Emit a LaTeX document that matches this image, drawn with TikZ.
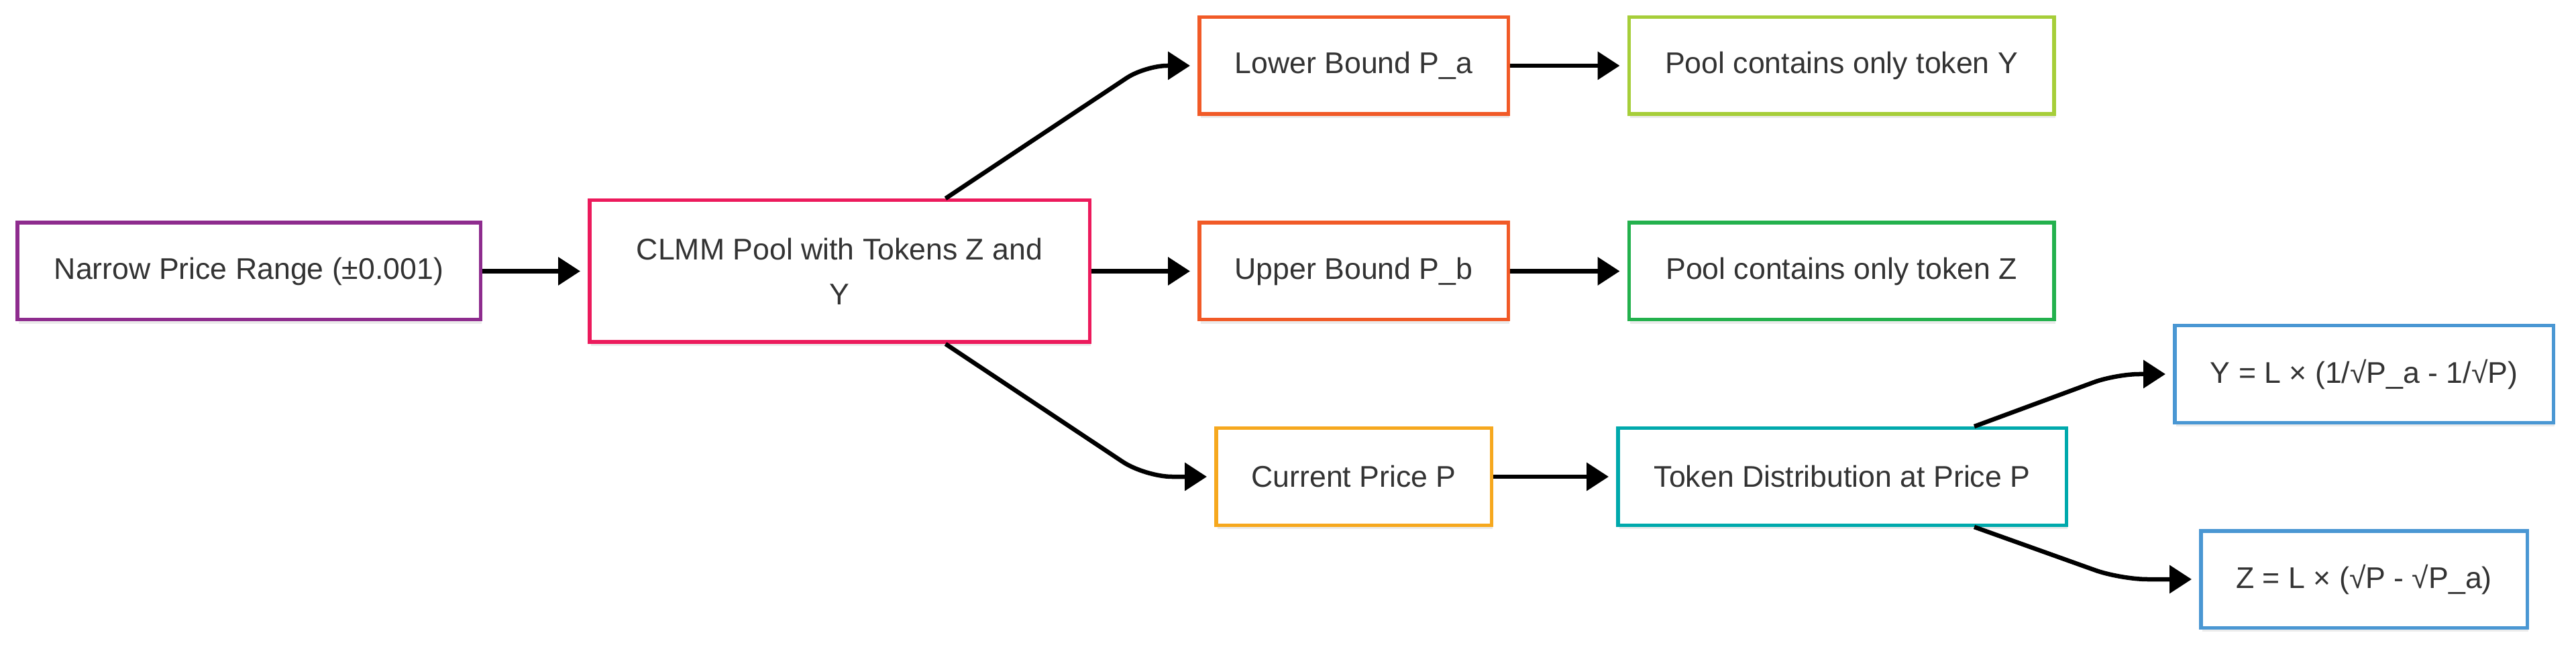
\documentclass[tikz,border=0pt]{standalone}
\usepackage{fontspec}
\setmainfont{Liberation Sans}
\usetikzlibrary{arrows.meta,shadows,calc}
\definecolor{txt}{HTML}{333333}
\definecolor{cpurple}{HTML}{8E2C8E}
\definecolor{cpink}{HTML}{EC1A5C}
\definecolor{corange}{HTML}{F15A27}
\definecolor{clime}{HTML}{A6CE39}
\definecolor{cgreen}{HTML}{23B14D}
\definecolor{camber}{HTML}{F6A81E}
\definecolor{cteal}{HTML}{00A9AC}
\definecolor{cblue}{HTML}{4A97D3}
\begin{document}
\begin{tikzpicture}[
  box/.style={draw=#1, line width=0.055cm, fill=white, inner sep=0pt, align=center,
    text=txt, font=\fontsize{12.7pt}{19pt}\selectfont, minimum height=1.445cm,
    drop shadow={shadow xshift=0.02cm, shadow yshift=-0.06cm, opacity=0.08, fill=black, draw=none}},
  arr/.style={draw=black, line width=0.065cm, -{Triangle[length=0.33cm,width=0.41cm]}, shorten >=0.11cm},
]
\useasboundingbox (0,0) rectangle (38.4,-9.65);

\node[box=cpurple, minimum width=6.905cm] (n1) at (3.71,-4.045) {Narrow Price Range (±0.001)};
\node[box=cpink, minimum width=7.455cm, minimum height=2.115cm] (n2) at (12.515,-4.045) {CLMM Pool with Tokens Z and\\Y};
\node[box=corange, minimum width=4.605cm] (lb) at (20.18,-0.98) {Lower Bound P\_a};
\node[box=corange, minimum width=4.605cm] (ub) at (20.18,-4.045) {Upper Bound P\_b};
\node[box=camber, minimum width=4.105cm] (cp) at (20.18,-7.11) {Current Price P};
\node[box=clime, minimum width=6.335cm] (py) at (27.45,-0.98) {Pool contains only token Y};
\node[box=cgreen, minimum width=6.335cm] (pz) at (27.45,-4.045) {Pool contains only token Z};
\node[box=cteal, minimum width=6.685cm] (td) at (27.46,-7.11) {Token Distribution at Price P};
\node[box=cblue, minimum width=5.645cm] (fy) at (35.24,-5.58) {Y = L × (1/√P\_a - 1/√P)};
\node[box=cblue, minimum width=4.865cm] (fz) at (35.24,-8.64) {Z = L × (√P - √P\_a)};

\draw[arr] (n1.east) -- (n2.west);
\draw[arr, rounded corners=0.33cm] ([xshift=1.58cm]n2.north) -- ([xshift=-0.78cm]lb.west) -- (lb.west);
\draw[arr] (n2.east) -- (ub.west);
\draw[arr, rounded corners=0.4cm] ([xshift=1.58cm]n2.south) -- ([xshift=-1.03cm]cp.west) -- (cp.west);
\draw[arr] (lb.east) -- (py.west);
\draw[arr] (ub.east) -- (pz.west);
\draw[arr] (cp.east) -- (td.west);
\draw[arr, rounded corners=0.35cm] ([xshift=1.97cm]td.north) -- ([xshift=-0.85cm]fy.west) -- (fy.west);
\draw[arr, rounded corners=0.4cm] ([xshift=1.97cm]td.south) -- ([xshift=-1.17cm]fz.west) -- (fz.west);
\end{tikzpicture}
\end{document}
